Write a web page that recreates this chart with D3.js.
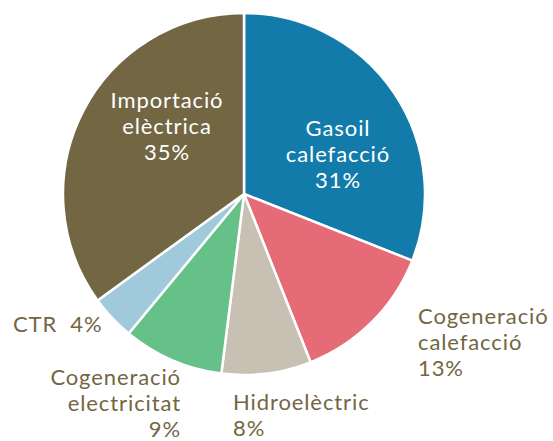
<!DOCTYPE html>
<html>
<head>
<meta charset="utf-8">
<script src="https://cdn.jsdelivr.net/npm/d3@7"></script>
<style>
  html, body { margin: 0; padding: 0; background: #fff; }
  svg { display: block; }
  text { font-family: Lato, 'Open Sans', sans-serif; }
</style>
</head>
<body>
<div id="chart"></div>
<script>
// energy sources share
const categories = ['Gasoil calefacció', 'Cogeneració calefacció', 'Hidroelèctric', 'Cogeneració electricitat', 'CTR', 'Importació elèctrica'];
const values = [31, 13, 8, 9, 4, 35];
const colors = ['#137baa', '#e56b76', '#c8c1b3', '#66c189', '#a0c9dc', '#736643'];

// how each label is laid out (lines, anchor, offset from pie centre, inside or not)
const labelLayout = [
  { lines: ['Gasoil', 'calefacció', '{p}'], anchor: 'middle', dx: 94, dy: -58, inside: true },
  { lines: ['Cogeneració', 'calefacció', '{p}'], anchor: 'start', dx: 174, dy: 130, inside: false },
  { lines: ['Hidroelèctric', '{p}'], anchor: 'start', dx: -11, dy: 216, inside: false },
  { lines: ['Cogeneració', 'electricitat', '{p}'], anchor: 'end', dx: -63, dy: 191, inside: false },
  { lines: ['CTR\u00a0\u00a0{p}'], anchor: 'start', dx: -231, dy: 138, inside: false },
  { lines: ['Importació', 'elèctrica', '{p}'], anchor: 'middle', dx: -77, dy: -86, inside: true }
];

const width = 553, height = 441;
const cx = 244, cy = 194, radius = 181;
const lineH = 26;
const textColor = '#736643';

const svg = d3.select('#chart')
  .append('svg')
  .attr('width', width)
  .attr('height', height);

const pie = d3.pie().sort(null).value(d => d)(values);
const arc = d3.arc().innerRadius(0).outerRadius(radius);

const g = svg.append('g').attr('transform', `translate(${cx},${cy})`);

g.selectAll('path')
  .data(pie)
  .join('path')
  .attr('d', arc)
  .attr('fill', (d, i) => colors[i])
  .attr('stroke', '#fff')
  .attr('stroke-width', 2.5)
  .attr('stroke-linejoin', 'round');

const labels = g.selectAll('text.label')
  .data(pie)
  .join('text')
  .attr('class', 'label')
  .attr('font-size', 22)
  .attr('letter-spacing', 0.9)
  .attr('fill', (d, i) => labelLayout[i].inside ? '#fff' : textColor)
  .attr('text-anchor', (d, i) => labelLayout[i].anchor);

labels.each(function(d, i) {
  const l = labelLayout[i];
  d3.select(this).selectAll('tspan')
    .data(l.lines)
    .join('tspan')
    .attr('x', l.dx)
    .attr('y', (s, j) => l.dy + j * lineH)
    .text(s => s.replace('{p}', values[i] + '%'));
});
</script>
</body>
</html>
